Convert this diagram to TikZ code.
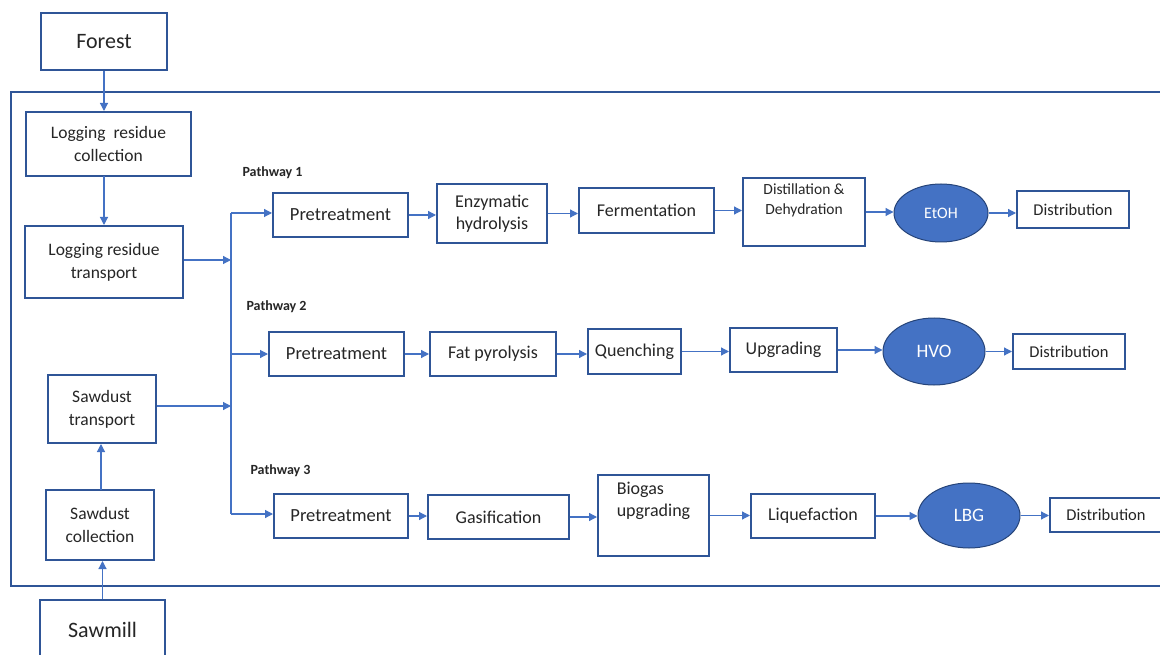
\documentclass[tikz,border=0pt]{standalone}
\usepackage{fontspec}
\setmainfont{Carlito}
\usetikzlibrary{positioning,shapes.geometric,arrows.meta}

\definecolor{boxblue}{HTML}{2F5597}
\definecolor{linkblue}{HTML}{4472C4}
\definecolor{txt}{HTML}{262626}

\tikzset{
    box/.style={draw=boxblue,line width=2pt,text=txt,align=center,inner sep=2pt},
    fuel/.style={ellipse,draw=boxblue!80!black,line width=1pt,fill=linkblue,text=white,inner sep=0pt},
    link/.style={draw=linkblue,line width=1.2pt,-{Triangle[length=8pt,width=8pt]}},
    plabel/.style={anchor=west,font=\fontsize{14}{14}\selectfont\bfseries,text=txt}
}

\begin{document}
\begin{tikzpicture}[x=1pt,y=-1pt]
    \clip (0,0) rectangle (1160,655);
    \fill[white] (0,0) rectangle (1160,655);

    % frame round the supply chain
    \draw[boxblue,line width=2pt] (11,92) rectangle (1180,586);

    % feedstock side
    \node[box,minimum width=126pt,minimum height=57pt,font=\fontsize{22}{26}\selectfont] (forest) at (104,42) {Forest};
    \node[box,minimum width=165pt,minimum height=64pt,font=\fontsize{17.5}{23}\selectfont] (lrc) at (108.5,144) {Logging\ \ residue\\collection};
    \node[box,minimum width=158pt,minimum height=72pt,font=\fontsize{17.5}{23}\selectfont] (lrt) at (104,262) {Logging residue\\transport};
    \node[box,minimum width=108pt,minimum height=68pt,font=\fontsize{17.5}{23}\selectfont] (st) at (102,409) {Sawdust\\transport};
    \node[box,minimum width=108pt,minimum height=70pt,font=\fontsize{17.5}{23}\selectfont] (sc) at (100,525) {Sawdust\\collection};
    \node[box,minimum width=125pt,minimum height=60pt,font=\fontsize{22}{26}\selectfont] (sawmill) at (102.5,630) {Sawmill};

    \draw[link] (forest.south) -- (forest.south |- lrc.north);
    \draw[link] (104,176) coordinate (lrcb) -- (lrcb |- lrt.north);
    \draw[link] (sawmill.north) -- (sawmill.north |- sc.south);
    \draw[link] (101,490) coordinate (sct) -- (sct |- st.south);

    % pathway labels
    \node[plabel] (lab1) at (239,173) {Pathway 1};
    \node[plabel] (lab2) at (243,307) {Pathway 2};
    \node[plabel] (lab3) at (247,471) {Pathway 3};

    % pathway 1
    \node[box,minimum width=135pt,minimum height=44pt,font=\fontsize{18.5}{22}\selectfont] (pa) at (340.5,215) {Pretreatment};
    \node[box,minimum width=110pt,minimum height=59pt,font=\fontsize{18}{22}\selectfont] (enz) at (492,213.5) {Enzymatic\\hydrolysis};
    \node[box,minimum width=135pt,minimum height=45pt,font=\fontsize{18}{22}\selectfont] (ferm) at (646.5,210.5) {Fermentation};
    \node[box,minimum width=122pt,minimum height=68pt,font=\fontsize{15.5}{20}\selectfont] (dist) at (804,212) {Distillation \&\\Dehydration\\[6pt]};
    \node[fuel,minimum width=94pt,minimum height=58pt,font=\fontsize{16}{18}\selectfont] (etoh) at (941,213) {EtOH};
    \node[box,minimum width=112pt,minimum height=37pt,font=\fontsize{16.5}{20}\selectfont] (outa) at (1073,209.5) {Distribution};

    % pathway 2
    \node[box,minimum width=135pt,minimum height=44pt,font=\fontsize{18.5}{22}\selectfont] (pb) at (336.5,354) {Pretreatment};
    \node[box,minimum width=126pt,minimum height=44pt,font=\fontsize{18}{22}\selectfont] (fat) at (493,354) {Fat pyrolysis};
    \node[box,minimum width=93pt,minimum height=45pt,font=\fontsize{18}{22}\selectfont] (quen) at (634.5,351.5) {Quenching};
    \node[box,minimum width=107pt,minimum height=44pt,font=\fontsize{18}{22}\selectfont] (upg) at (783.5,350) {Upgrading};
    \node[fuel,minimum width=102pt,minimum height=67pt,font=\fontsize{19}{22}\selectfont] (hvo) at (934,351.5) {HVO};
    \node[box,minimum width=112pt,minimum height=35pt,font=\fontsize{16.5}{20}\selectfont] (outb) at (1069,351.5) {Distribution};

    % pathway 3
    \node[box,minimum width=134pt,minimum height=44pt,font=\fontsize{18.5}{22}\selectfont] (pc) at (341,516) {Pretreatment};
    \node[box,minimum width=141pt,minimum height=44pt,font=\fontsize{18}{22}\selectfont] (gas) at (498.5,517) {Gasification};
    \node[box,minimum width=111pt,minimum height=81pt,align=left,font=\fontsize{18}{22}\selectfont] (bio) at (653.5,515.5) {Biogas\\upgrading\\[10pt]};
    \node[box,minimum width=124pt,minimum height=44pt,font=\fontsize{18}{22}\selectfont] (liq) at (813,516) {Liquefaction};
    \node[fuel,minimum width=102pt,minimum height=65pt,font=\fontsize{19}{22}\selectfont] (lbg) at (969,515.5) {LBG};
    \node[box,minimum width=112pt,minimum height=34pt,font=\fontsize{16.5}{20}\selectfont] (outc) at (1106,515) {Distribution};

    % distribution bus
    \coordinate (bustop) at (231,213);
    \coordinate (busbot) at (231,514);
    \draw[linkblue,line width=1.2pt] (bustop) -- (busbot);
    \draw[link] (lrt.east |- 0,260) coordinate (lrtout) -- (lrtout -| bustop);
    \draw[link] (st.east |- 0,406) coordinate (stout) -- (stout -| bustop);
    \draw[link] (bustop) -- (bustop -| pa.west);
    \draw[link] (bustop |- pb.west) -- (pb.west);
    \draw[link] (busbot) -- (busbot -| pc.west);

    % process chains
    \foreach \a/\b in {pa/enz,enz/ferm,ferm/dist,dist/etoh,etoh/outa,
                       pb/fat,fat/quen,quen/upg,upg/hvo,hvo/outb,
                       pc/gas,gas/bio,bio/liq,liq/lbg,lbg/outc} {
        \draw[link] (\a.east) -- (\a.east -| \b.west);
    }
\end{tikzpicture}
\end{document}
